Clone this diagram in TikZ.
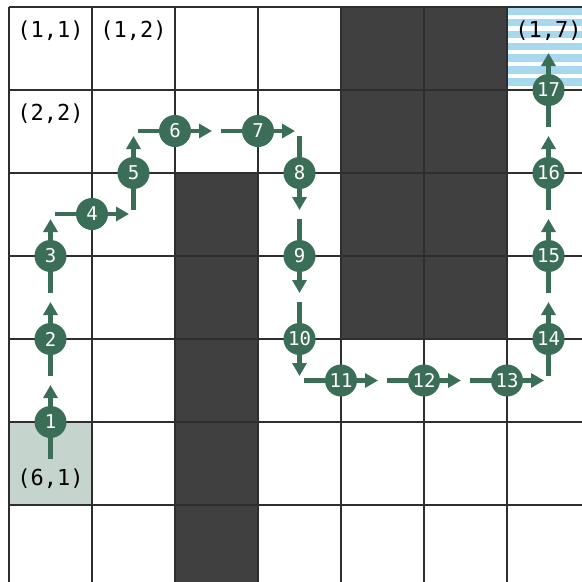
\documentclass[tikz,border=0pt]{standalone}
\usepackage{fontspec}
\setmonofont{DejaVu Sans Mono}
\usetikzlibrary{arrows.meta,calc}
\definecolor{wall}{HTML}{404040}
\definecolor{gridc}{HTML}{2E2E2E}
\definecolor{pathg}{HTML}{3A6E56}
\definecolor{startc}{HTML}{C5D5CD}
\definecolor{goalc}{HTML}{A7D8ED}
\tikzset{
  cellwall/.style={fill=wall,draw=none},
  gridline/.style={draw=gridc,line width=2.5pt},
  arr/.style={draw=pathg,line width=4.5pt,-{Triangle[width=14pt,length=13pt]}},
  stepnode/.style={circle,fill=pathg,minimum size=32pt,inner sep=0pt,text=white,font=\fontsize{19}{19}\selectfont\ttfamily},
  celllabel/.style={inner sep=0pt,font=\fontsize{22}{22}\selectfont\ttfamily,text=black}
}
\begin{document}
\begin{tikzpicture}[x=1pt,y=-1pt]
\useasboundingbox (0,0) rectangle (582,582);
\fill[white] (0,0) rectangle (582,582);
% walls
\fill[cellwall] (175,173) rectangle (258,582);
\fill[cellwall] (341,7) rectangle (507,339);
% start cell
\fill[startc] (9,422) rectangle (92,505);
% goal cell stripes
\begin{scope}
\clip (507,7) rectangle (590,90);
\foreach \k in {0,...,6}{
  \fill[goalc] (507,{7+\k*83/7}) rectangle (590,{7+\k*83/7+7.6});
}
\end{scope}
% grid
\foreach \i in {0,...,6}{
  \draw[gridline] ({9+83*\i},7) -- ({9+83*\i},590);
  \draw[gridline] (9,{7+83*\i}) -- (590,{7+83*\i});
}
% labels
\node[celllabel] (l11) at (50.5,31) {(1,1)};
\node[celllabel] (l12) at (133.5,31) {(1,2)};
\node[celllabel] (l22) at (50.5,114) {(2,2)};
\node[celllabel] (l17) at (548.5,31) {(1,7)};
\node[celllabel] (l61) at (50.5,479) {(6,1)};
% step positions
\coordinate (p1) at (50.5,422);
\coordinate (p2) at (50.5,339);
\coordinate (p3) at (50.5,256);
\coordinate (p4) at (92,214);
\coordinate (p5) at (133.5,173);
\coordinate (p6) at (175,131);
\coordinate (p7) at (258,131);
\coordinate (p8) at (299.5,173);
\coordinate (p9) at (299.5,256);
\coordinate (p10) at (299.5,339);
\coordinate (p11) at (341,380.5);
\coordinate (p12) at (424,380.5);
\coordinate (p13) at (507,380.5);
\coordinate (p14) at (548.5,339);
\coordinate (p15) at (548.5,256);
\coordinate (p16) at (548.5,173);
\coordinate (p17) at (548.5,90);
% arrows
\foreach \p in {1,2,3,5,14,15,16,17}{
  \draw[arr] ($(p\p)+(0,37)$) -- ($(p\p)+(0,-37)$);
}
\foreach \p in {4,6,7,11,12,13}{
  \draw[arr] ($(p\p)+(-37,0)$) -- ($(p\p)+(37,0)$);
}
\foreach \p in {8,9,10}{
  \draw[arr] ($(p\p)+(0,-37)$) -- ($(p\p)+(0,37)$);
}
% step nodes
\foreach \p in {1,...,17}{
  \node[stepnode] (n\p) at (p\p) {\p};
}
\end{tikzpicture}
\end{document}
